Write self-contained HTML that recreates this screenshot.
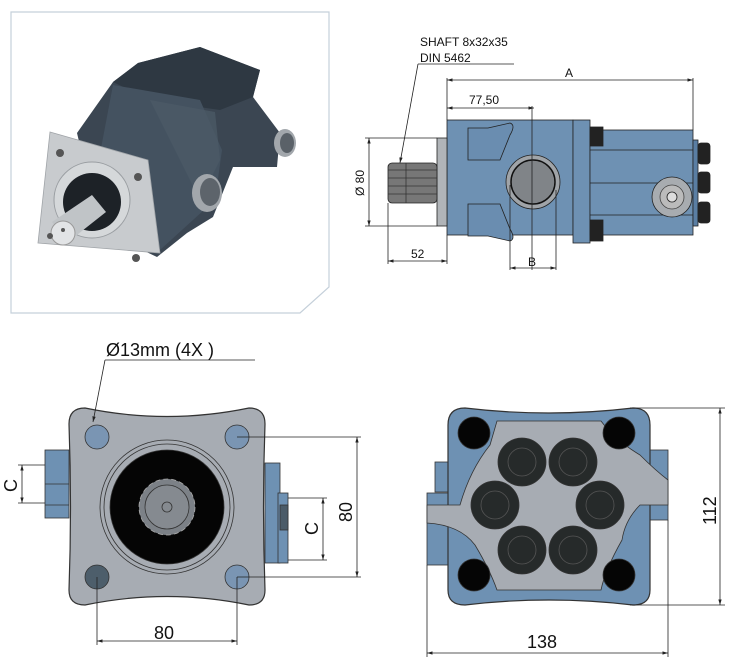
<!DOCTYPE html>
<html><head><meta charset="utf-8"><style>
html,body{margin:0;padding:0;background:#fff;}
svg{display:block;}
text{font-family:"Liberation Sans",sans-serif;fill:#111;}
</style></head><body>
<svg width="730" height="665" viewBox="0 0 730 665" xmlns="http://www.w3.org/2000/svg">
<defs>
<marker id="a" viewBox="0 0 10 10" refX="10" refY="5" markerWidth="7" markerHeight="7" orient="auto-start-reverse"><path d="M0 2 L10 5 L0 8 Z" fill="#222"/></marker>
</defs>
<!-- photo frame -->
<path d="M11 12 H329 V287 L300 313 H11 Z" fill="#fff" stroke="#c5d0da" stroke-width="1.2"/>
<!-- photo pump -->
<g>
<polygon points="77,133 113,82 138,63 200,47 260,70 253,97 280,133 277,167 233,167 213,217 187,233 157,257 100,230" fill="#3b4652"/>
<polygon points="113,82 138,63 200,47 260,70 253,97 220,110 150,100" fill="#2e3842"/>
<polygon points="113,85 200,100 222,150 215,200 160,250 95,180" fill="#445260"/>
<polygon points="150,100 215,112 220,160 200,200" fill="#4d5b68" opacity="0.7"/>
<polygon points="50,132 148,160 160,253 38,243" fill="#c8cbce" stroke="#a0a4a8" stroke-width="0.8"/>
<circle cx="92" cy="200" r="38" fill="#d5d8da" stroke="#9a9ea2"/>
<circle cx="92" cy="202" r="29" fill="#1d2227"/>
<polygon points="52,222 92,195 106,212 68,242" fill="#c0c4c7"/>
<circle cx="63" cy="233" r="12" fill="#e2e4e6" stroke="#999"/>
<circle cx="63" cy="230" r="2" fill="#555"/>
<circle cx="60" cy="153" r="4" fill="#555"/>
<circle cx="138" cy="177" r="4" fill="#555"/>
<circle cx="50" cy="236" r="3" fill="#555"/>
<circle cx="136" cy="258" r="4" fill="#555"/>
<ellipse cx="207" cy="193" rx="15" ry="19" fill="#a2a7ac"/>
<ellipse cx="210" cy="192" rx="10" ry="14" fill="#5d646b"/>
<ellipse cx="285" cy="143" rx="11" ry="14" fill="#a2a7ac"/>
<ellipse cx="287" cy="143" rx="7" ry="10" fill="#5a6168"/>
</g>

<!-- SIDE VIEW -->
<g stroke="#222" stroke-width="0.8">
<rect x="447" y="120" width="126" height="115" fill="#6e91b3"/>
<rect x="573" y="120" width="17" height="123" fill="#6e91b3"/>
<rect x="590" y="130" width="103" height="105" fill="#6e91b3"/>
<line x1="590" y1="150" x2="693" y2="150"/><line x1="590" y1="215" x2="693" y2="215"/>
<line x1="590" y1="183" x2="693" y2="183"/>
<rect x="693" y="140" width="5" height="86" fill="#5a7ea3"/>
<rect x="698" y="143" width="12" height="21" rx="3" fill="#222"/>
<rect x="698" y="172" width="12" height="21" rx="3" fill="#222"/>
<rect x="698" y="202" width="12" height="21" rx="3" fill="#222"/>
<rect x="590" y="127" width="13" height="19" fill="#222"/>
<rect x="590" y="220" width="13" height="21" fill="#222"/>
<rect x="437" y="138" width="10" height="88" fill="#b0b4b8"/>
<rect x="388" y="163" width="49" height="40" rx="4" fill="#777"/>
<g stroke="#333"><line x1="388" y1="170" x2="437" y2="170"/><line x1="388" y1="178" x2="437" y2="178"/><line x1="388" y1="186" x2="437" y2="186"/><line x1="388" y1="194" x2="437" y2="194"/><line x1="406" y1="163" x2="406" y2="203"/></g>
<path d="M468 128 H488 L510 123 Q516 125 510 135 L500 160 H468 Z" fill="#6a8db0"/>
<path d="M468 236 H488 L510 241 Q516 239 510 229 L500 204 H468 Z" fill="#6a8db0"/>
<circle cx="533" cy="182" r="27" fill="#a0a4a8"/>
<circle cx="533" cy="182" r="22" fill="#808488" stroke="#111" stroke-width="1.5"/>
<circle cx="672" cy="197" r="20" fill="#a8acb0"/>
<circle cx="672" cy="197" r="12" fill="#bbb" stroke="#444"/>
<circle cx="672" cy="197" r="5" fill="#ddd"/>
</g>
<!-- side dims -->
<g stroke="#222" stroke-width="0.8" fill="none">
<line x1="418" y1="64" x2="514" y2="64"/><line x1="418" y1="64" x2="400" y2="163" marker-end="url(#a)"/>
<line x1="447" y1="78" x2="447" y2="120"/><line x1="693" y1="78" x2="693" y2="130"/>
<line x1="447" y1="80" x2="693" y2="80" marker-start="url(#a)" marker-end="url(#a)"/>
<line x1="447" y1="108" x2="534" y2="108" marker-start="url(#a)" marker-end="url(#a)"/><line x1="532" y1="106" x2="532" y2="270"/>
<line x1="369" y1="138" x2="369" y2="226" marker-start="url(#a)" marker-end="url(#a)"/><line x1="365" y1="138" x2="437" y2="138"/><line x1="365" y1="226" x2="437" y2="226"/>
<line x1="388" y1="203" x2="388" y2="264"/><line x1="447" y1="235" x2="447" y2="264"/><line x1="388" y1="261" x2="447" y2="261" marker-start="url(#a)" marker-end="url(#a)"/>
<line x1="510" y1="185" x2="510" y2="270"/><line x1="556" y1="190" x2="556" y2="270"/><line x1="510" y1="268" x2="556" y2="268" marker-start="url(#a)" marker-end="url(#a)"/>
</g>
<text x="420" y="46" font-size="12">SHAFT 8x32x35</text>
<text x="420" y="62" font-size="12">DIN 5462</text>
<text x="565" y="77" font-size="12">A</text>
<text x="469" y="104" font-size="12">77,50</text>
<text x="411" y="258" font-size="12">52</text>
<text x="528" y="266" font-size="12">B</text>
<text x="0" y="0" font-size="12" transform="translate(364,196) rotate(-90)">Ø 80</text>

<!-- FRONT VIEW -->
<g stroke="#333" stroke-width="0.8">
<rect x="45" y="450" width="24" height="68" fill="#6e91b3"/>
<line x1="45" y1="484" x2="69" y2="484"/><line x1="45" y1="505" x2="69" y2="505"/>
<rect x="265" y="463" width="15" height="100" fill="#6e91b3"/>
<rect x="278" y="493" width="10" height="70" fill="#6e91b3"/>
<rect x="280" y="505" width="8" height="25" fill="#4b5b68"/>
<path d="M85 408 Q167 425 249 408 Q265 408 265 424 Q262 507 265 590 Q265 605 249 605 Q167 588 85 605 Q69 605 69 590 Q72 507 69 424 Q69 408 85 408 Z" fill="#a7acb3" stroke="#333" stroke-width="1.2"/>
<circle cx="97" cy="437" r="12" fill="#7a95b3"/>
<circle cx="237" cy="437" r="12" fill="#7a95b3"/>
<circle cx="97" cy="577" r="12" fill="#4d5e6b"/>
<circle cx="237" cy="577" r="12" fill="#7a95b3"/>
<circle cx="167" cy="507" r="67" fill="#a7acb3"/>
<circle cx="167" cy="507" r="63" fill="none"/>
<circle cx="167" cy="507" r="57" fill="#050505"/>
<circle cx="167" cy="507" r="28" fill="#7c8187" stroke="#aaa" stroke-dasharray="5 3"/>
<circle cx="167" cy="507" r="22" fill="#858a90"/>
<circle cx="167" cy="507" r="5" fill="none"/>
</g>
<g stroke="#222" stroke-width="0.8" fill="none">
<line x1="105" y1="360" x2="255" y2="360"/><line x1="105" y1="360" x2="93" y2="422" marker-end="url(#a)"/>
<line x1="18" y1="465" x2="45" y2="465"/><line x1="18" y1="503" x2="45" y2="503"/><line x1="22" y1="465" x2="22" y2="503" marker-start="url(#a)" marker-end="url(#a)"/>
<line x1="288" y1="498" x2="327" y2="498"/><line x1="288" y1="560" x2="327" y2="560"/><line x1="323" y1="498" x2="323" y2="560" marker-start="url(#a)" marker-end="url(#a)"/>
<line x1="237" y1="437" x2="361" y2="437"/><line x1="237" y1="577" x2="361" y2="577"/><line x1="357" y1="437" x2="357" y2="577" marker-start="url(#a)" marker-end="url(#a)"/>
<line x1="97" y1="577" x2="97" y2="645"/><line x1="237" y1="577" x2="237" y2="645"/><line x1="97" y1="641" x2="237" y2="641" marker-start="url(#a)" marker-end="url(#a)"/>
</g>
<text x="106" y="356" font-size="18">Ø13mm (4X )</text>
<text x="154" y="639" font-size="18">80</text>
<text font-size="18" transform="translate(17,492) rotate(-90)">C</text>
<text font-size="18" transform="translate(318,535) rotate(-90)">C</text>
<text font-size="18" transform="translate(352,522) rotate(-90)">80</text>

<!-- REAR VIEW -->
<g stroke="#333" stroke-width="0.8">
<rect x="427" y="493" width="30" height="72" fill="#6e91b3"/>
<rect x="435" y="462" width="15" height="30" fill="#6e91b3"/>
<rect x="640" y="450" width="28" height="70" fill="#6e91b3"/>
<path d="M465 408 Q549 418 633 408 Q650 408 650 425 V590 Q650 605 633 605 Q549 595 465 605 Q448 605 448 590 V425 Q448 408 465 408 Z" fill="#6e91b3" stroke-width="1.2"/>
<path d="M497 421 H601 Q615 440 640 455 Q655 470 668 480 V505 H640 Q625 520 622 540 Q605 570 601 590 H497 Q490 570 475 545 Q460 525 427 523 V505 H460 Q470 470 490 445 Z" fill="#a7acb3"/>
<circle cx="474" cy="433" r="16" fill="#050505"/>
<circle cx="619" cy="433" r="16" fill="#050505"/>
<circle cx="474" cy="575" r="16" fill="#050505"/>
<circle cx="619" cy="575" r="16" fill="#050505"/>
<g fill="#262a2a">
<circle cx="522" cy="462" r="24"/><circle cx="573" cy="462" r="24"/>
<circle cx="495" cy="505" r="24"/><circle cx="600" cy="505" r="24"/>
<circle cx="522" cy="550" r="24"/><circle cx="573" cy="550" r="24"/>
</g>
<g fill="none" stroke="#555">
<circle cx="522" cy="462" r="14"/><circle cx="573" cy="462" r="14"/>
<circle cx="495" cy="505" r="14"/><circle cx="600" cy="505" r="14"/>
<circle cx="522" cy="550" r="14"/><circle cx="573" cy="550" r="14"/>
</g>
</g>
<g stroke="#222" stroke-width="0.8" fill="none">
<line x1="630" y1="408" x2="725" y2="408"/><line x1="630" y1="605" x2="725" y2="605"/><line x1="720" y1="408" x2="720" y2="605" marker-start="url(#a)" marker-end="url(#a)"/>
<line x1="427" y1="565" x2="427" y2="657"/><line x1="668" y1="520" x2="668" y2="657"/><line x1="427" y1="653" x2="668" y2="653" marker-start="url(#a)" marker-end="url(#a)"/>
</g>
<text x="527" y="648" font-size="18">138</text>
<text font-size="18" transform="translate(716,525) rotate(-90)">112</text>
</svg>
</body></html>
